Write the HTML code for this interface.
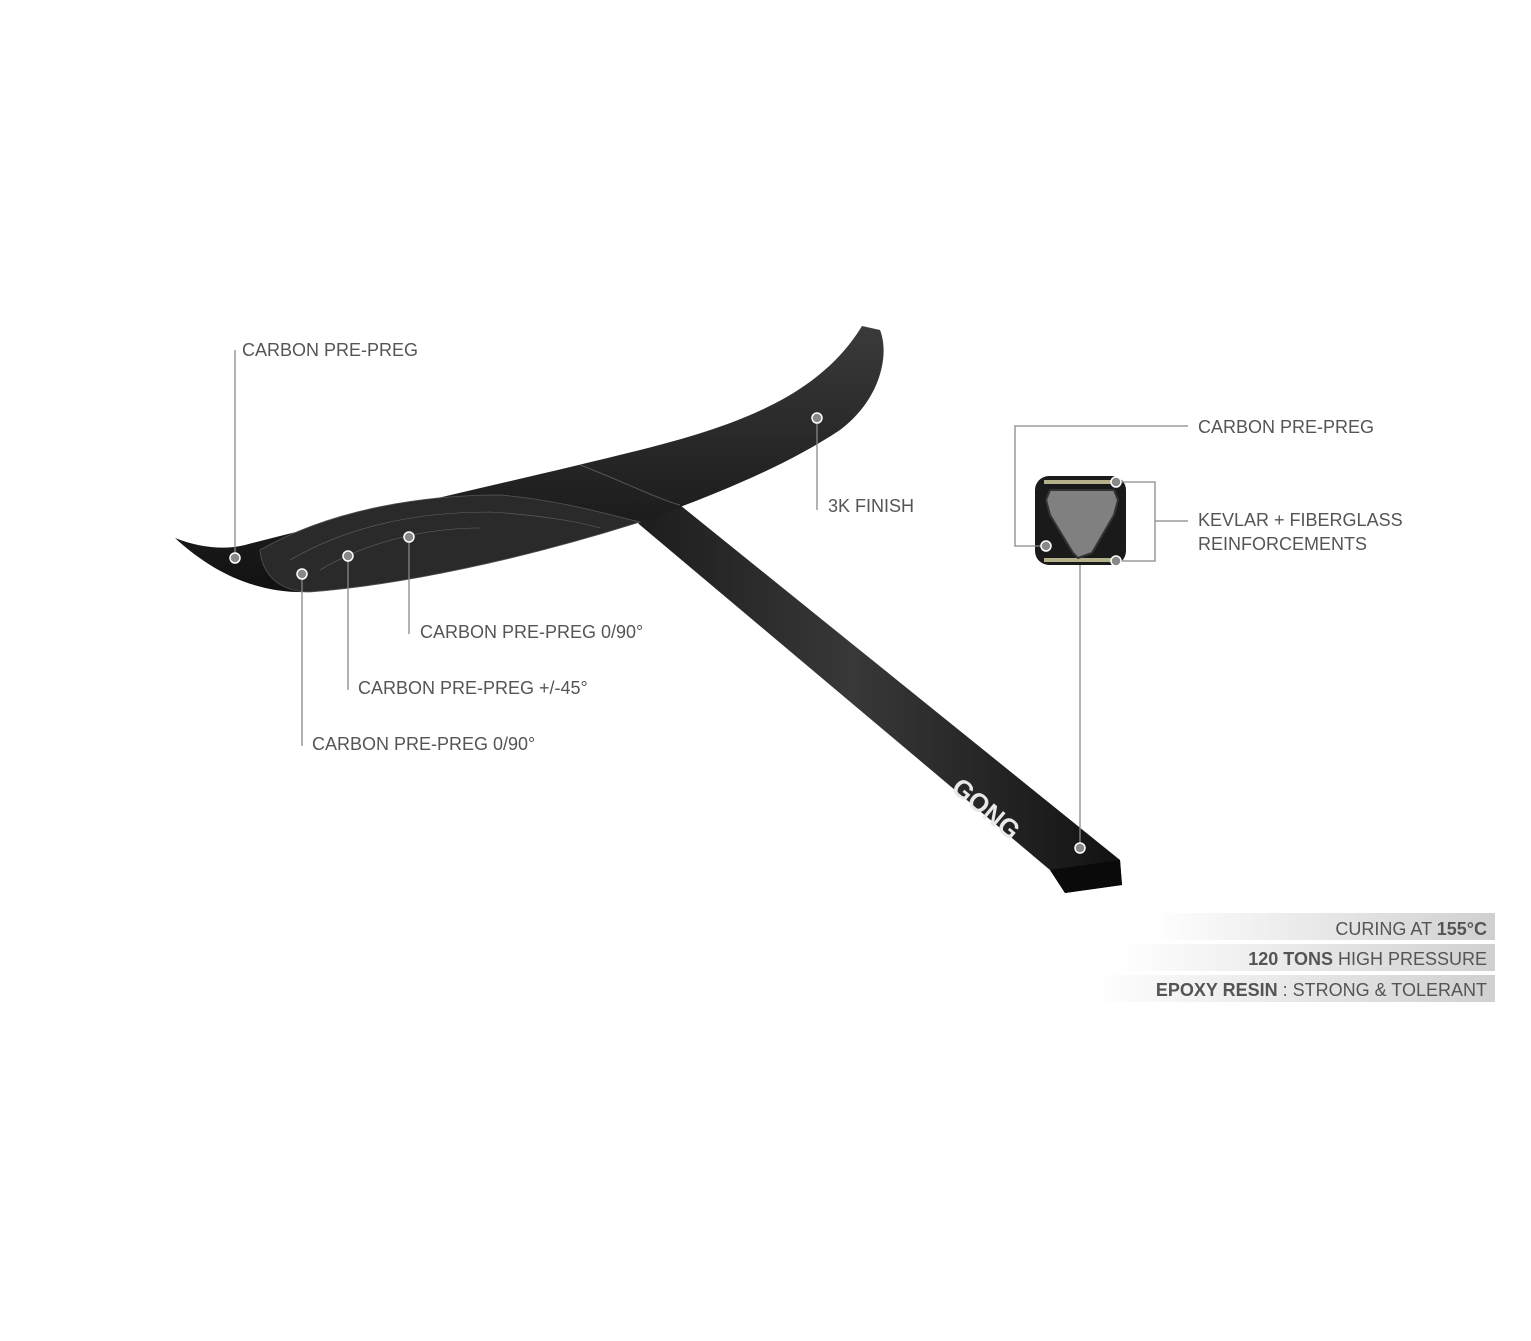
<!DOCTYPE html>
<html><head><meta charset="utf-8"><style>
body{margin:0;background:#fff;}
svg{display:block}
text{font-family:"Liberation Sans",sans-serif;font-size:18px;fill:#555;}
</style></head><body>
<svg width="1531" height="1341" viewBox="0 0 1531 1341">
<defs>
<linearGradient id="bar" x1="0" x2="1"><stop offset="0" stop-color="#fff"/><stop offset="1" stop-color="#d0d0d0"/></linearGradient>
<linearGradient id="wing" x1="0" y1="0" x2="0" y2="1"><stop offset="0" stop-color="#3a3a3a"/><stop offset="1" stop-color="#111"/></linearGradient>
<linearGradient id="fus" x1="0" y1="0" x2="1" y2="0"><stop offset="0" stop-color="#161616"/><stop offset="0.5" stop-color="#383838"/><stop offset="1" stop-color="#121212"/></linearGradient>
</defs>
<!-- fuselage -->
<path d="M585,470 L680,505 L1120,860 L1122,885 L1065,893 L1050,870 L640,525 Z" fill="url(#fus)"/>
<path d="M1050,870 L1065,893 L1122,885 L1120,860 Z" fill="#0a0a0a"/>
<!-- wing -->
<path d="M175,538 C200,548 225,550 245,545 C380,510 520,480 640,450 C740,425 820,395 862,326 L880,330 C890,355 880,400 840,430 C780,470 700,500 640,522 C520,560 400,585 310,592 C260,594 215,575 175,538 Z" fill="url(#wing)"/>
<path d="M260,550 C330,510 420,495 500,495 C560,500 610,515 640,522 C520,560 400,585 310,592 C280,592 262,575 260,550 Z" fill="#2a2a2a" stroke="#555" stroke-width="0.8"/>
<path d="M290,560 C350,525 420,512 490,512 C540,515 580,522 600,528" fill="none" stroke="#666" stroke-width="0.6"/>
<path d="M320,570 C370,540 430,528 480,528" fill="none" stroke="#666" stroke-width="0.6"/>
<path d="M580,465 C620,480 660,500 680,505" fill="none" stroke="#555" stroke-width="1"/>
<text x="950" y="790" transform="rotate(40 950 790)" style="font-weight:bold;font-size:26px;fill:#e8e8e8">GONG</text>
<!-- cross section -->
<rect x="1035" y="476" width="91" height="89" rx="14" fill="#1a1a1a"/>
<rect x="1044" y="480" width="74" height="4" fill="#b3b08a"/>
<rect x="1044" y="558" width="74" height="4" fill="#b3b08a"/>
<path d="M1050,490 L1114,490 L1118,500 L1114,515 L1092,553 L1078,558 L1073,553 L1050,515 L1046,500 Z" fill="#808080" stroke="#333" stroke-width="2"/>
<!-- lines -->
<g stroke="#888" stroke-width="1.3" fill="none">
<polyline points="235,558 235,350"/>
<polyline points="817,418 817,510"/>
<polyline points="409,537 409,634"/>
<polyline points="348,556 348,690"/>
<polyline points="302,574 302,746"/>
<polyline points="1046,546 1015,546 1015,426 1188,426"/>
<polyline points="1116,482 1155,482 1155,561 1116,561"/>
<polyline points="1155,521 1188,521"/>
<polyline points="1080,565 1080,848"/>
</g>
<g fill="#888" stroke="#fff" stroke-width="1.5">
<circle cx="235" cy="558" r="5"/><circle cx="817" cy="418" r="5"/><circle cx="409" cy="537" r="5"/>
<circle cx="348" cy="556" r="5"/><circle cx="302" cy="574" r="5"/><circle cx="1046" cy="546" r="5"/>
<circle cx="1116" cy="482" r="5"/><circle cx="1116" cy="561" r="5"/><circle cx="1080" cy="848" r="5"/>
</g>
<text x="242" y="356">CARBON PRE-PREG</text>
<text x="828" y="512">3K FINISH</text>
<text x="420" y="638">CARBON PRE-PREG 0/90°</text>
<text x="358" y="694">CARBON PRE-PREG +/-45°</text>
<text x="312" y="750">CARBON PRE-PREG 0/90°</text>
<text x="1198" y="433">CARBON PRE-PREG</text>
<text x="1198" y="526">KEVLAR + FIBERGLASS</text>
<text x="1198" y="550">REINFORCEMENTS</text>
<rect x="1150" y="913" width="345" height="27" fill="url(#bar)"/>
<rect x="1120" y="944" width="375" height="27" fill="url(#bar)"/>
<rect x="1090" y="975" width="405" height="27" fill="url(#bar)"/>
<text x="1487" y="935" text-anchor="end">CURING AT <tspan font-weight="bold">155°C</tspan></text>
<text x="1487" y="965" text-anchor="end"><tspan font-weight="bold">120 TONS</tspan> HIGH PRESSURE</text>
<text x="1487" y="996" text-anchor="end"><tspan font-weight="bold">EPOXY RESIN</tspan> : STRONG &amp; TOLERANT</text>
</svg>
</body></html>
